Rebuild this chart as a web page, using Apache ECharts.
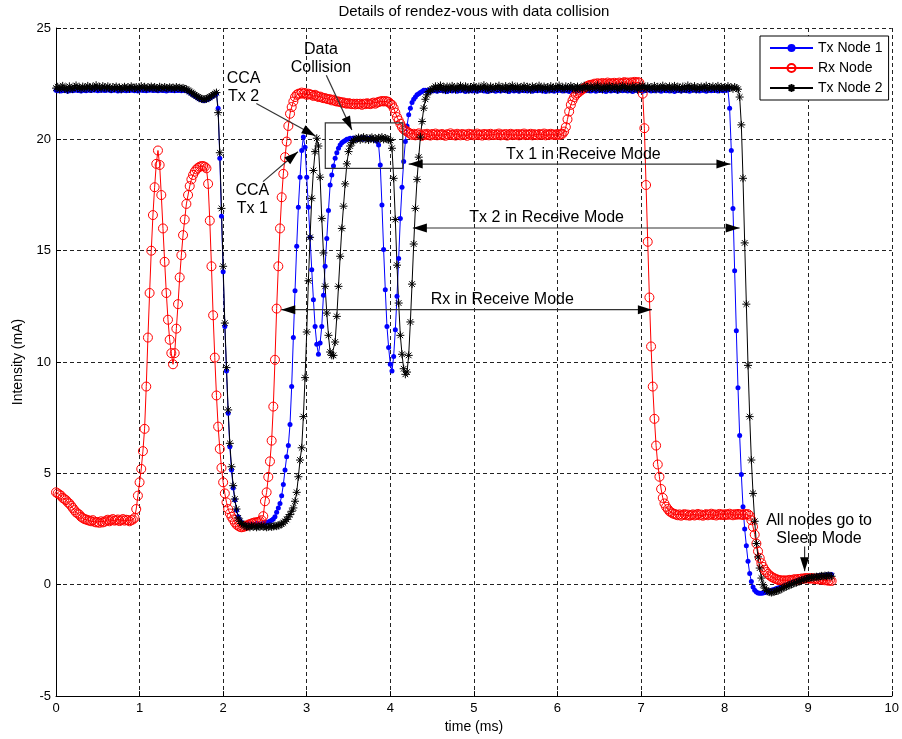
<!DOCTYPE html>
<html>
<head>
<meta charset="UTF-8">
<title>Details of rendez-vous with data collision</title>
<script src="https://cdn.jsdelivr.net/npm/echarts@6.0.0/dist/echarts.min.js"></script>
<style>
  html, body { margin: 0; padding: 0; background: #fff; }
  #main { width: 902px; height: 739px; }
</style>
</head>
<body>
<div id="main"></div>
<script>
// sampling step of the current traces (ms)
var DT = 0.02;

// Tx Node 1 (mA), one value every DT
var txNode1 = [
  22.2,22.18,22.22,22.17,22.21,22.19,22.23,22.16,22.2,22.22,
  22.18,22.21,22.24,22.19,22.2,22.17,22.22,22.2,22.18,22.23,
  22.21,22.19,22.24,22.2,22.25,22.18,22.22,22.2,22.23,22.19,
  22.21,22.24,22.2,22.18,22.22,22.2,22.23,22.17,22.21,22.19,
  22.2,22.22,22.18,22.21,22.19,22.23,22.2,22.18,22.22,22.17,
  22.2,22.23,22.19,22.21,22.18,22.22,22.2,22.24,22.19,22.21,
  22.2,22.18,22.22,22.2,22.19,22.21,22.17,22.2,22.22,22.19,
  22.21,22.18,22.2,22.19,22.22,22.18,22.2,22.19,
  22.2,22.15,22.1,22.05,22.0,21.95,21.9,21.85,21.8,21.78,21.75,21.75,21.78,21.8,21.85,21.9,21.95,22.0,22.05,
  21.4,19.15,16.55,14.05,11.6,9.6,7.7,6.2,5.15,4.35,3.8,3.35,3.05,2.9,2.8,2.75,
  2.72,2.7,2.75,2.7,2.72,2.68,2.7,2.75,2.72,2.7,2.73,2.75,2.78,2.8,2.82,2.85,2.9,2.95,
  3.05,3.25,3.45,3.65,4.0,4.5,5.15,5.75,6.25,7.2,8.9,11.1,13.2,15.2,16.95,18.3,19.5,20.1,
  19.65,18.3,16.95,15.6,14.15,12.8,11.6,10.8,10.35,10.85,11.6,13.0,14.3,15.55,16.8,17.95,
  18.4,18.8,19.15,19.4,19.6,19.75,19.85,19.9,19.95,20.0,
  20.02,20.05,20.0,20.06,20.03,19.99,20.05,20.02,20.07,20.0,20.04,20.06,20.01,20.05,20.03,20.0,19.97,19.92,
  19.75,18.85,17.05,15.05,13.25,11.6,10.65,9.9,9.6,10.25,11.45,12.95,14.65,16.45,17.85,
  19.0,19.9,20.6,21.1,21.4,21.65,21.8,21.9,22.0,22.05,22.1,22.15,22.2,
  22.2,22.17,22.22,22.15,22.2,22.18,22.23,22.16,22.21,22.19,
  22.24,22.17,22.2,22.15,22.22,22.19,22.17,22.23,22.2,22.16,
  22.21,22.18,22.24,22.2,22.15,22.22,22.18,22.2,22.17,22.23,
  22.19,22.16,22.21,22.2,22.24,22.17,22.2,22.15,22.22,22.18,
  22.2,22.23,22.16,22.21,22.19,22.17,22.24,22.2,22.18,22.22,
  22.15,22.2,22.23,22.17,22.21,22.19,22.16,22.22,22.2,22.18,
  22.24,22.17,22.2,22.22,22.16,22.19,22.21,22.18,22.23,22.2,
  22.17,22.21,22.15,22.2,22.23,22.18,22.2,22.16,22.22,22.19,
  22.2,22.24,22.17,22.21,22.18,22.2,22.15,22.23,22.19,22.21,
  22.17,22.2,22.22,22.16,22.2,22.24,22.18,22.21,22.19,22.17,
  22.22,22.2,22.16,22.23,22.19,22.21,22.18,22.2,22.15,22.22,
  22.2,22.17,22.23,22.19,22.21,22.16,22.2,22.24,22.18,22.2,
  22.22,22.17,22.21,22.19,22.15,22.23,22.2,22.18,22.21,22.2,
  22.16,22.22,22.19,22.24,22.2,22.17,22.21,22.18,22.2,22.23,
  22.19,22.16,22.22,22.2,22.18,22.24,22.17,22.21,22.2,22.15,
  22.22,22.19,22.2,22.17,22.23,22.2,22.18,22.21,22.16,22.22,
  22.2,22.24,22.18,22.21,22.17,22.2,22.22,22.19,22.16,22.23,
  22.2,22.18,22.21,22.19,22.24,22.17,22.2,22.22,22.18,22.2,
  22.21,22.23,
  21.4,19.5,16.9,14.1,11.4,8.85,6.7,4.95,3.5,2.5,1.75,1.05,0.5,0.15,-0.1,-0.25,-0.33,-0.37,
  -0.38,-0.38,-0.37,-0.35,-0.33,-0.3,-0.28,-0.25,-0.22,-0.2,
  -0.17,-0.15,-0.12,-0.09,-0.06,-0.03,0.0,0.03,0.06,0.1,
  0.13,0.15,0.18,0.2,0.22,0.25,0.27,0.29,0.3,0.32,
  0.33,0.35,0.36,0.37,0.38,0.4,0.4,0.42,0.41,0.43,
  0.44,0.45,0.44,0.46
];

// Rx Node (mA)
var rxNode = [
  4.15,4.1,4.05,4.0,3.9,3.85,3.8,3.7,3.65,3.55,
  3.45,3.35,3.25,3.2,3.15,3.05,3.0,2.95,2.93,2.9,
  2.88,2.85,2.9,2.83,2.8,2.82,2.78,2.85,2.8,2.83,
  2.88,2.92,2.85,2.9,2.95,2.88,2.9,2.93,2.86,2.9,
  2.95,2.88,2.92,2.9,2.85,2.9,2.93,
  3.0,3.4,4.0,4.6,5.2,6.0,7.0,8.9,11.1,13.1,15.0,16.6,17.85,18.9,19.5,
  18.85,17.5,16.0,14.5,13.1,11.9,11.0,10.4,9.9,
  10.4,11.5,12.6,13.8,14.8,15.7,16.4,17.1,17.5,17.9,18.2,18.4,18.55,18.65,18.72,18.77,18.8,18.8,18.77,18.7,
  18.0,16.35,14.3,12.1,10.2,8.5,7.1,6.1,5.25,4.6,4.1,3.7,3.4,3.2,3.05,2.93,2.8,
  2.7,2.65,2.6,2.58,2.6,2.62,2.65,2.7,2.72,2.75,2.78,2.8,2.8,2.82,2.85,2.9,
  3.08,3.75,4.15,4.84,5.54,6.47,8.0,10.1,12.4,14.3,16.0,17.4,18.45,19.2,19.9,20.6,21.15,21.45,21.7,21.9,
  22.0,22.05,22.05,22.1,22.05,22.08,22.0,22.05,22.02,22.0,21.95,22.0,21.95,21.9,21.92,21.88,21.85,
  21.85,21.82,21.8,21.8,21.75,21.78,21.72,21.7,21.7,21.68,21.65,21.66,21.62,21.6,21.63,21.6,21.58,21.6,21.57,21.6,
  21.58,21.6,21.55,21.6,21.58,21.62,21.6,21.58,21.62,21.65,21.6,21.65,21.68,21.7,21.72,21.7,21.72,21.7,21.68,
  21.6,21.55,21.4,21.2,21.0,20.85,20.7,20.55,20.45,20.4,20.35,20.3,20.25,
  20.2,20.25,20.18,20.22,20.27,20.2,20.16,20.23,20.19,20.25,
  20.21,20.17,20.24,20.2,20.26,20.18,20.22,20.19,20.24,20.2,
  20.16,20.23,20.2,20.27,20.19,20.22,20.17,20.25,20.21,20.18,
  20.24,20.2,20.22,20.16,20.25,20.2,20.23,20.18,20.21,20.26,
  20.19,20.22,20.17,20.24,20.2,20.23,20.18,20.25,20.21,20.19,
  20.23,20.2,20.26,20.18,20.22,20.2,20.24,20.17,20.21,20.25,
  20.19,20.22,20.2,20.24,20.18,20.23,20.21,20.26,20.19,20.22,
  20.2,20.25,20.18,20.23,20.21,20.19,20.24,20.2,20.22,20.26,
  20.18,20.23,20.2,20.25,20.21,20.22,20.19,20.24,20.2,20.22,
  20.25,20.35,20.55,20.9,21.25,21.55,21.75,21.9,22.0,22.08,22.13,22.2,22.25,22.3,22.35,22.4,22.43,22.45,
  22.45,22.5,22.47,22.52,22.48,22.5,22.53,22.47,22.5,22.55,
  22.49,22.52,22.5,22.54,22.48,22.51,22.55,22.5,22.53,22.57,
  22.52,22.55,22.5,22.56,22.53,22.58,22.55,22.57,22.55,
  22.3,22.05,20.5,17.95,15.4,12.9,10.7,8.9,7.45,6.25,5.4,4.85,4.3,3.9,3.65,3.5,3.4,3.3,3.25,3.2,
  3.18,3.15,3.12,3.16,3.1,3.14,3.17,3.12,3.15,3.1,
  3.13,3.16,3.11,3.14,3.18,3.12,3.15,3.1,3.14,3.17,
  3.12,3.15,3.19,3.13,3.16,3.11,3.15,3.18,3.13,3.16,
  3.12,3.17,3.14,3.19,3.15,3.12,3.17,3.14,3.18,3.15,
  3.16,3.13,3.18,3.15,3.17,
  3.1,2.9,2.6,2.25,1.85,1.5,1.2,0.97,0.8,0.67,0.57,0.48,0.42,0.36,0.32,0.28,0.25,0.22,0.2,0.2,
  0.18,0.2,0.17,0.2,0.22,0.2,0.23,0.25,0.22,0.26,
  0.25,0.28,0.26,0.3,0.28,0.3,0.27,0.3,0.28,0.25,
  0.28,0.24,0.26,0.22,0.25,0.2,0.22,0.18,0.2,0.17
];

// Tx Node 2 (mA)
var txNode2 = [
  22.3,22.36,22.24,22.33,22.4,22.27,22.31,22.22,22.38,22.3,
  22.26,22.35,22.42,22.29,22.33,22.25,22.37,22.32,22.28,22.4,
  22.34,22.26,22.36,22.31,22.43,22.3,22.35,22.27,22.39,22.33,
  22.29,22.38,22.32,22.26,22.35,22.3,22.37,22.28,22.33,22.24,
  22.31,22.36,22.29,22.34,22.27,22.38,22.32,22.3,22.35,22.26,
  22.33,22.39,22.3,22.36,22.28,22.34,22.31,22.37,22.29,22.35,
  22.3,22.27,22.36,22.32,22.29,22.35,22.31,22.28,22.34,22.3,
  22.33,22.27,22.35,22.3,22.32,22.28,22.31,22.27,
  22.25,22.2,22.15,22.1,22.05,22.0,21.95,21.9,21.85,21.82,21.8,21.8,21.82,21.85,21.9,21.95,22.0,22.05,22.1,
  21.2,19.4,16.9,14.3,11.75,9.75,7.85,6.35,5.3,4.45,3.85,3.4,3.0,2.85,2.75,2.7,
  2.65,2.6,2.62,2.58,2.65,2.6,2.63,2.58,2.62,2.6,2.65,2.6,2.62,2.58,2.6,2.63,2.6,2.62,2.65,2.63,2.66,2.7,2.72,
  2.78,2.85,2.93,3.05,3.15,3.3,3.45,3.75,4.15,4.85,5.6,6.15,7.55,9.3,
  11.35,13.65,15.6,17.35,18.6,19.45,20.05,19.7,18.3,16.45,14.9,13.4,12.2,11.2,10.45,10.3,10.3,
  10.9,12.05,13.4,14.75,16.0,17.0,18.0,18.9,19.45,19.7,19.85,19.95,20.0,
  20.02,20.08,19.98,20.05,20.1,20.0,20.06,19.97,20.04,20.09,20.0,20.05,19.98,20.07,20.03,20.1,20.0,20.06,20.02,19.98,19.95,
  19.6,18.25,16.4,14.35,12.65,11.2,10.35,9.7,9.45,9.55,
  10.3,11.8,13.5,15.3,16.9,18.2,19.2,20.1,20.8,21.4,21.8,22.0,22.15,22.2,22.25,
  22.3,22.38,22.24,22.33,22.42,22.27,22.35,22.21,22.37,22.3,
  22.26,22.4,22.32,22.23,22.36,22.29,22.41,22.31,22.25,22.38,
  22.33,22.22,22.35,22.28,22.4,22.3,22.24,22.37,22.32,22.27,
  22.43,22.29,22.34,22.22,22.38,22.31,22.26,22.36,22.3,22.41,
  22.25,22.33,22.28,22.39,22.23,22.35,22.3,22.42,22.27,22.32,
  22.37,22.24,22.34,22.29,22.4,22.26,22.36,22.31,22.22,22.38,
  22.3,22.35,22.27,22.41,22.32,22.25,22.37,22.29,22.34,22.23,
  22.39,22.31,22.26,22.36,22.3,22.42,22.28,22.33,22.24,22.38,
  22.32,22.27,22.4,22.3,22.35,22.22,22.37,22.29,22.33,22.26,
  22.41,22.31,22.36,22.25,22.38,22.3,22.34,22.28,22.43,22.27,
  22.33,22.24,22.37,22.31,22.29,22.4,22.26,22.35,22.3,22.38,
  22.23,22.34,22.28,22.41,22.32,22.27,22.36,22.3,22.25,22.39,
  22.31,22.35,22.22,22.37,22.29,22.42,22.33,22.26,22.38,22.3,
  22.34,22.27,22.4,22.24,22.36,22.31,22.29,22.41,22.28,22.35,
  22.3,22.38,22.25,22.33,22.4,22.27,22.36,22.32,22.23,22.37,
  22.31,22.26,22.42,22.3,22.35,22.28,22.39,22.24,22.34,22.3,
  22.37,22.29,22.33,22.41,22.26,22.35,22.31,22.38,22.27,22.32,
  22.4,22.25,22.36,22.3,22.34,22.28,22.39,22.31,22.33,22.27,
  22.35,22.3,
  22.25,21.9,20.65,18.25,15.35,12.6,9.85,7.55,5.6,4.1,
  2.85,1.85,1.25,0.75,0.3,0.0,-0.15,-0.25,-0.3,-0.33,
  -0.35,-0.33,-0.3,
  -0.28,-0.27,-0.22,-0.18,-0.14,-0.1,-0.08,-0.04,-0.01,0.02,
  0.05,0.08,0.1,0.14,0.16,0.2,0.22,0.25,0.27,0.3,
  0.31,0.33,0.32,0.35,0.36,0.34,0.38,0.4,0.38,0.41,
  0.39,0.42,0.4,0.38
];

var seriesNames = ['Tx Node 1', 'Rx Node', 'Tx Node 2'];
var xTicks = [0, 10, 1];   // min, max, step
var yTicks = [-5, 25, 5];

// annotations, in data units (time ms, mA)
var noteTexts = [
  { text: 'Data\nCollision', at: [3.17, 23.62] },
  { text: 'CCA\nTx 2', at: [2.245, 22.32] },
  { text: 'CCA\nTx 1', at: [2.35, 17.3] },
  { text: 'Tx 1 in Receive Mode', at: [6.31, 19.33] },
  { text: 'Tx 2 in Receive Mode', at: [5.87, 16.47] },
  { text: 'Rx in Receive Mode', at: [5.34, 12.8] },
  { text: 'All nodes go to\nSleep Mode', at: [9.13, 2.48] }
];
var noteArrows = [
  { from: [2.397, 21.61], to: [3.106, 20.15] },
  { from: [2.477, 18.1], to: [2.895, 19.44] },
  { from: [3.234, 22.88], to: [3.54, 20.42] },
  { from: [4.22, 18.89], to: [8.07, 18.89], both: true },
  { from: [4.27, 16.02], to: [8.18, 16.02], both: true },
  { from: [2.696, 12.35], to: [7.13, 12.35], both: true },
  { from: [8.957, 1.72], to: [8.957, 0.61] }
];
var collisionBox = [[3.222, 20.74], [4.149, 18.70]];

var FONT = '"Liberation Sans", Arial, Helvetica, sans-serif';

function toXY(arr) {
  return arr.map(function (v, i) { return [i * DT, v]; });
}

var chart = echarts.init(document.getElementById('main'), null, { renderer: 'canvas' });

var option = {
  animation: false,
  backgroundColor: '#fff',
  grid: { left: 56, right: 9, top: 28, bottom: 41, containLabel: false },
  legend: {
    orient: 'vertical',
    left: 760, top: 36,
    padding: [5, 6, 5, 9],
    itemWidth: 43, itemHeight: 10, itemGap: 6,
    borderColor: '#000', borderWidth: 1,
    backgroundColor: '#fff',
    textStyle: { fontSize: 14, color: '#000', fontFamily: FONT },
    data: seriesNames
  },
  xAxis: {
    type: 'value', min: xTicks[0], max: xTicks[1], interval: xTicks[2],
    name: 'time (ms)', nameLocation: 'middle', nameGap: 22,
    nameTextStyle: { fontSize: 14, color: '#000', fontFamily: FONT },
    axisLine: { onZero: false, lineStyle: { color: '#000', width: 1 } },
    axisTick: { inside: true, length: 5, lineStyle: { color: '#000' } },
    axisLabel: { fontSize: 13, color: '#000', margin: 6, fontFamily: FONT },
    splitLine: { show: true, lineStyle: { color: '#222', type: [4, 3], width: 1 } }
  },
  yAxis: {
    type: 'value', min: yTicks[0], max: yTicks[1], interval: yTicks[2],
    name: 'Intensity (mA)', nameLocation: 'middle', nameGap: 30,
    nameTextStyle: { fontSize: 14, color: '#000', fontFamily: FONT },
    axisLine: { onZero: false, lineStyle: { color: '#000', width: 1 } },
    axisTick: { inside: true, length: 5, lineStyle: { color: '#000' } },
    axisLabel: { fontSize: 13, color: '#000', margin: 5, fontFamily: FONT },
    splitLine: { show: true, lineStyle: { color: '#222', type: [4, 3], width: 1 } }
  },
  series: [
    {
      name: seriesNames[0], type: 'line', data: toXY(txNode1),
      symbol: 'circle', symbolSize: 5, showAllSymbol: true, silent: true,
      lineStyle: { color: '#0000ff', width: 1 },
      itemStyle: { color: '#0000ff' }
    },
    {
      name: seriesNames[1], type: 'line', data: toXY(rxNode),
      symbol: 'circle', symbolSize: 9, showAllSymbol: true, silent: true,
      lineStyle: { color: '#ff0000', width: 1 },
      itemStyle: { color: 'rgba(255,255,255,0)', borderColor: '#ff0000', borderWidth: 1 }
    },
    {
      name: seriesNames[2], type: 'line', data: toXY(txNode2),
      symbol: 'path://M5 0L5 10M0 5L10 5M1.46 1.46L8.54 8.54M1.46 8.54L8.54 1.46',
      symbolSize: 8, showAllSymbol: true, silent: true,
      lineStyle: { color: '#000', width: 1 },
      itemStyle: { color: '#000', borderColor: '#000', borderWidth: 1 }
    }
  ]
};
chart.setOption(option);

// annotations placed through the chart's own scales
function px(p) { return chart.convertToPixel({ gridIndex: 0 }, p); }

function arrowHead(tip, tail) {
  var dx = tip[0] - tail[0], dy = tip[1] - tail[1];
  var len = Math.sqrt(dx * dx + dy * dy);
  var ux = dx / len, uy = dy / len;
  var L = 14, W = 4.5;
  var bx = tip[0] - ux * L, by = tip[1] - uy * L;
  return {
    type: 'polygon', z: 110, silent: true,
    shape: { points: [tip, [bx - uy * W, by + ux * W], [bx + uy * W, by - ux * W]] },
    style: { fill: '#000' }
  };
}

var g = [];
var x0 = px([xTicks[0], yTicks[1]]), x1 = px([xTicks[1], yTicks[1]]);
g.push({
  type: 'text', z: 110, silent: true,
  x: (x0[0] + x1[0]) / 2, y: 12,
  style: { text: 'Details of rendez-vous with data collision', fontSize: 15, fontFamily: FONT,
    fill: '#000', textAlign: 'center', textVerticalAlign: 'middle', align: 'center', verticalAlign: 'middle' }
});

noteTexts.forEach(function (n) {
  var p = px(n.at);
  g.push({
    type: 'text', z: 110, silent: true, x: p[0], y: p[1],
    style: { text: n.text, fontSize: 16, fontFamily: FONT, fill: '#000', lineHeight: 18.5,
      textAlign: 'center', textVerticalAlign: 'middle', align: 'center', verticalAlign: 'middle' }
  });
});

noteArrows.forEach(function (a) {
  var p0 = px(a.from), p1 = px(a.to);
  g.push({
    type: 'line', z: 105, silent: true,
    shape: { x1: p0[0], y1: p0[1], x2: p1[0], y2: p1[1] },
    style: { stroke: '#333', lineWidth: 1.2 }
  });
  g.push(arrowHead(p1, p0));
  if (a.both) g.push(arrowHead(p0, p1));
});

var b0 = px(collisionBox[0]), b1 = px(collisionBox[1]);
g.push({
  type: 'rect', z: 105, silent: true,
  shape: { x: b0[0], y: b0[1], width: b1[0] - b0[0], height: b1[1] - b0[1] },
  style: { fill: 'none', stroke: '#333', lineWidth: 1.2 }
});

chart.setOption({ graphic: g });
</script>
</body>
</html>
